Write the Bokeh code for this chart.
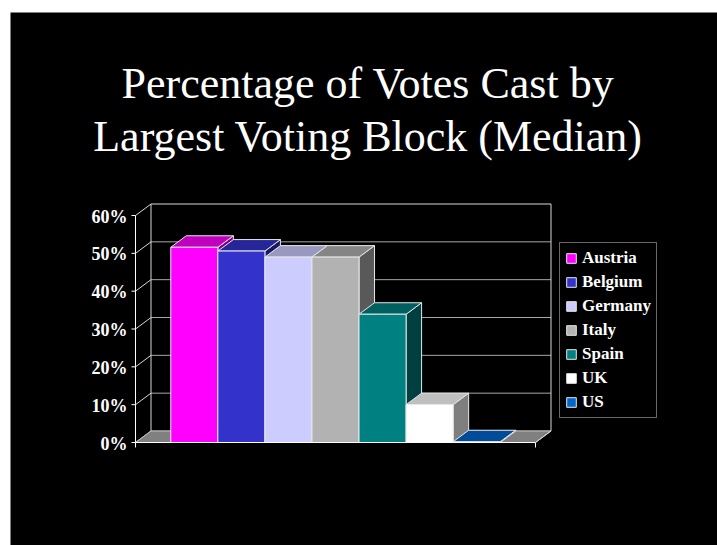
from bokeh.plotting import figure
from bokeh.models import Range1d, ColumnDataSource, Label
from bokeh.embed import file_html
from bokeh.resources import INLINE
from bokeh.core.properties import value

# ---------------- data ----------------
countries = ["Austria", "Belgium", "Germany", "Italy", "Spain", "UK", "US"]
shares = [51.6, 50.6, 49.0, 49.0, 33.9, 10.0, 0.2]
colors = ["#FF00FF", "#3333CC", "#CCCCFF", "#B2B2B2", "#008080", "#FFFFFF", "#0066CC"]
y_ticks = [0, 10, 20, 30, 40, 50, 60]
y_tick_labels = ["0%", "10%", "20%", "30%", "40%", "50%", "60%"]
title_lines = ["Percentage of Votes Cast by", "Largest Voting Block (Median)"]

# ---------------- geometry ----------------
W, H = 717, 545
ML, MT = 10, 12               # white page margin around the black slide
FW, FH = W - ML, H - MT       # frame size
FX0, FX1 = 125.0, 525.0       # front plane left/right (frame px)
FY0, FY60 = 430.0, 203.0      # front plane 0% / 60% (frame px)
GAP = 0.75                    # half of 150% gap width, in bar widths
n = len(countries)
XMAX = n + 2 * GAP
YMAX = y_ticks[-1]
kx = (FX1 - FX0) / XMAX
ky = (FY0 - FY60) / YMAX
DX = 15.5 / kx                # depth offset (data units)
DY = 11.5 / ky

def X(fx):
    return (fx - FX0) / kx

def Y(fy):
    return (FY0 - fy) / ky

p = figure(width=W, height=H, output_backend="svg", toolbar_location=None,
           x_range=Range1d(X(0), X(FW)), y_range=Range1d(Y(FH), Y(0)),
           x_axis_location=None, y_axis_location=None,
           min_border_left=ML, min_border_top=MT, min_border_right=0, min_border_bottom=0,
           background_fill_color="black", border_fill_color="white",
           outline_line_color=None)
p.xgrid.visible = False
p.ygrid.visible = False

grid_col = "#a8a8a8"
edge_col = "#d8d8d8"

# back wall grid lines and top edge
p.segment(x0=[DX] * len(y_ticks), y0=[t + DY for t in y_ticks],
          x1=[XMAX + DX] * len(y_ticks), y1=[t + DY for t in y_ticks],
          line_color=[edge_col if t == YMAX else grid_col for t in y_ticks], line_width=1)
# left wall diagonals
p.segment(x0=[0] * len(y_ticks), y0=y_ticks, x1=[DX] * len(y_ticks),
          y1=[t + DY for t in y_ticks], line_color=edge_col, line_width=1)
# back wall vertical edges
p.segment(x0=[DX, XMAX + DX], y0=[DY, DY], x1=[DX, XMAX + DX], y1=[YMAX + DY, YMAX + DY],
          line_color=edge_col, line_width=1)

# floor
p.patch(x=[0, XMAX, XMAX + DX, DX], y=[0, 0, DY, DY],
        fill_color="#808080", line_color="#c0c0c0", line_width=1)

# bars
def shade(c, f):
    c = c.lstrip("#")
    r, g, b = (int(c[i:i + 2], 16) for i in (0, 2, 4))
    return "#%02x%02x%02x" % (int(r * f), int(g * f), int(b * f))

lefts = [GAP + i for i in range(n)]
rights = [l + 1 for l in lefts]
side_xs = [[r, r + DX, r + DX, r] for r in rights]
side_ys = [[0, DY, h + DY, h] for h in shares]
top_xs = [[l, r, r + DX, l + DX] for l, r in zip(lefts, rights)]
top_ys = [[h, h, h + DY, h + DY] for h in shares]

p.patches(xs=side_xs, ys=side_ys, fill_color=[shade(c, 0.5) for c in colors],
          line_color="#e8e8e8", line_width=1)
p.patches(xs=top_xs, ys=top_ys, fill_color=[shade(c, 0.75) for c in colors],
          line_color="#e8e8e8", line_width=1)

src = ColumnDataSource(dict(left=lefts, right=rights, top=shares, bottom=[0] * n,
                            color=colors, country=countries))
p.quad(left="left", right="right", top="top", bottom="bottom", source=src,
       fill_color="color", line_color="#e8e8e8", line_width=1, legend_field="country")

# front axis lines and ticks
p.segment(x0=[0, 0], y0=[0, 0], x1=[0, XMAX], y1=[YMAX, 0], line_color="white", line_width=1)
p.segment(x0=[X(FX0 - 4)] * len(y_ticks), y0=y_ticks, x1=[0] * len(y_ticks), y1=y_ticks,
          line_color="white", line_width=1)
p.segment(x0=[0, XMAX], y0=[0, 0], x1=[0, XMAX], y1=[Y(FY0 + 5)] * 2,
          line_color="white", line_width=1)
p.segment(x0=[XMAX], y0=[0], x1=[XMAX + DX], y1=[DY], line_color=edge_col, line_width=1)

# y tick labels
p.text(x=[X(FX0 - 8)] * len(y_ticks), y=y_ticks, text=y_tick_labels,
       text_align="right", text_baseline="middle", y_offset=1,
       text_font=value("Liberation Serif"), text_font_style="bold",
       text_font_size="18px", text_color="white")

# title
for line, base in zip(title_lines, [71, 124]):
    p.add_layout(Label(x=X(357.5), y=Y(base), text=line, text_align="center",
                       text_baseline="alphabetic", text_font="Liberation Serif",
                       text_font_size="44px", text_color="white"))

# legend
lg = p.legend[0]
lg.location = (549, 127)
lg.orientation = "vertical"
lg.background_fill_color = "black"
lg.background_fill_alpha = 1.0
lg.border_line_color = "#d0d0d0"
lg.border_line_width = 1
lg.label_text_color = "white"
lg.label_text_font = "Liberation Serif"
lg.label_text_font_style = "bold"
lg.label_text_font_size = "17px"
lg.glyph_width = 12
lg.glyph_height = 12
lg.label_height = 20
lg.label_standoff = 5
lg.spacing = 4
lg.padding = 5
lg.margin = 0

open("out.html", "w").write(file_html(p, INLINE))
